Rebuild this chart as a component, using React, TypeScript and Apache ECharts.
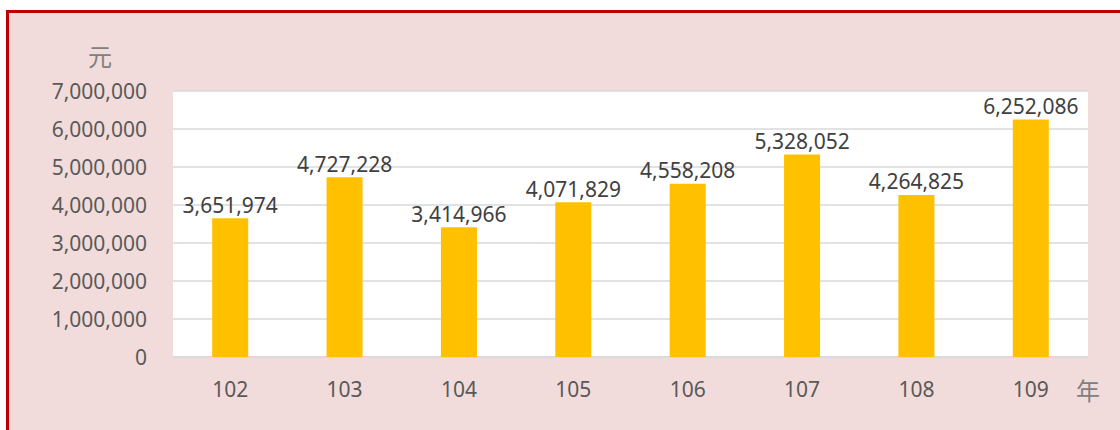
import React, { useEffect, useRef } from "react";
import * as echarts from "echarts";

const categories = ["102", "103", "104", "105", "106", "107", "108", "109"];
const values = [3651974, 4727228, 3414966, 4071829, 4558208, 5328052, 4264825, 6252086];
const yUnit = "元";
const xUnit = "年";

const fmt = (v: number) => v.toLocaleString("en-US");

export default function App() {
  const ref = useRef<HTMLDivElement>(null);
  useEffect(() => {
    if (!ref.current) return;
    const chart = echarts.init(ref.current, null, { renderer: "svg" });
    const font = "'Noto Sans', 'Noto Sans CJK TC', sans-serif";
    chart.setOption({
      animation: false,
      backgroundColor: "#ffffff",
      graphic: [
        {
          type: "rect",
          z: -10,
          silent: true,
          shape: { x: 7.5, y: 11.5, width: 1200, height: 500 },
          style: { fill: "#f2dcdb", stroke: "#c00000", lineWidth: 3 },
        },
        {
          type: "rect",
          z: -5,
          silent: true,
          shape: { x: 173, y: 91, width: 915, height: 266 },
          style: { fill: "#ffffff" },
        },
        {
          type: "text",
          x: 100,
          y: 55,
          style: {
            text: yUnit,
            fill: "#808080",
            font: "24px 'Noto Sans CJK TC', sans-serif",
            align: "center",
            verticalAlign: "middle",
          },
        },
        {
          type: "text",
          x: 1088,
          y: 389,
          style: {
            text: xUnit,
            fill: "#808080",
            font: "24px 'Noto Sans CJK TC', sans-serif",
            align: "center",
            verticalAlign: "middle",
          },
        },
      ],
      grid: { left: 173, top: 91, width: 915, height: 266, containLabel: false },
      xAxis: {
        type: "category",
        data: categories,
        axisLine: { show: true, lineStyle: { color: "#d9d9d9", width: 1.5 } },
        axisTick: { show: false },
        axisLabel: { color: "#595959", fontSize: 21, fontFamily: font, margin: 21 },
      },
      yAxis: {
        type: "value",
        min: 0,
        max: 7000000,
        interval: 1000000,
        axisLine: { show: false },
        axisTick: { show: false },
        splitLine: { lineStyle: { color: "#d9d9d9", width: 1.5 } },
        axisLabel: {
          color: "#595959",
          fontSize: 21,
          fontFamily: font,
          margin: 26,
          formatter: (v: number) => fmt(v),
        },
      },
      series: [
        {
          type: "bar",
          data: values,
          barWidth: "31.5%",
          itemStyle: { color: "#ffc000" },
          label: {
            show: true,
            position: "top",
            distance: 3,
            color: "#404040",
            fontSize: 21,
            fontFamily: font,
            formatter: (p: any) => fmt(p.value),
          },
        },
      ],
    });
    return () => chart.dispose();
  }, []);
  return (
    <div
      ref={ref}
      style={{ position: "fixed", left: 0, top: 0, width: 1120, height: 430 }}
    />
  );
}
